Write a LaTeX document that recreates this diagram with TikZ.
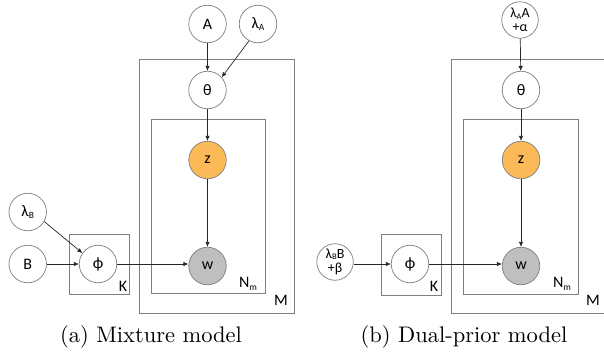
\documentclass[tikz,border=0pt]{standalone}
\usepackage{fontspec}
\usetikzlibrary{arrows.meta}
\newfontfamily\nodefont{Carlito}
\newfontfamily\capfont{lmroman10-regular}[Extension=.otf]
\newcommand{\lowsub}[1]{\raisebox{-0.3ex}{\fontsize{9.5}{10}\selectfont #1}}
\newcommand{\tinysub}[1]{\raisebox{-0.2ex}{\fontsize{8.5}{9}\selectfont #1}}
\definecolor{zorange}{HTML}{FBBA57}
\definecolor{wgray}{HTML}{BFBFBF}
\definecolor{edgegray}{HTML}{7F7F7F}
\definecolor{boxgray}{HTML}{808080}
\begin{document}
\begin{tikzpicture}[x=1pt,y=-1pt,
  var/.style={circle,draw=edgegray,line width=0.7pt,minimum size=37.5pt,inner sep=0pt,
    font=\nodefont\fontsize{16}{17}\selectfont,align=center},
  smallvar/.style={var,minimum size=36.5pt,font=\nodefont\fontsize{14}{14}\selectfont},
  plate/.style={draw=boxgray,line width=0.8pt},
  platelabel/.style={font=\nodefont\fontsize{16}{17}\selectfont,inner sep=0pt},
  edge/.style={draw=black!85,line width=0.7pt,-{Latex[length=5pt,width=4.5pt]}},
  caption/.style={font=\capfont\fontsize{22.5}{26}\selectfont,inner sep=0pt,anchor=base}]
\useasboundingbox (0,0) rectangle (604,354);
\fill[white] (0,0) rectangle (604,354);

% ---------- (a) Mixture model ----------
\draw[plate] (139,59) rectangle (294,313);
\draw[plate] (151,119) rectangle (265,293);
\draw[plate] (69,234) rectangle (129,294);
\node[platelabel] (Ka) at (123,286) {K};
\node[platelabel] (Nma) at (248,284) {N\lowsub{m}};
\node[platelabel] (Ma) at (281,300) {M};

\node[var] (A) at (207.5,24) {A};
\node[var] (lamA) at (258,24) {λ\lowsub{A}};
\node[var] (thetaa) at (207.5,90) {θ};
\node[var,fill=zorange] (za) at (207.5,160) {z};
\node[var,fill=wgray] (wa) at (207.5,266) {w};
\node[var] (lamB) at (27.7,212) {λ\lowsub{B}};
\node[var] (B) at (27.7,264) {B};
\node[var] (phia) at (98,264) {ϕ};

\draw[edge] (A) -- (thetaa);
\draw[edge] (lamA.242) -- (thetaa.42);
\draw[edge] (thetaa) -- (za);
\draw[edge] (za) -- (wa);
\draw[edge] (lamB.-30) -- (phia.145);
\draw[edge] (B) -- (phia);
\draw[edge] (phia.east) -- (wa.west |- phia.east);

\node[caption] (capa) at (151,342) {(a) Mixture model};

% ---------- (b) Dual-prior model ----------
\draw[plate] (604,59) -- (451,59) -- (451,313) -- (604,313);
\draw[plate] (463,119) rectangle (578,294);
\draw[plate] (381,234) rectangle (441,295);
\node[platelabel] (Kb) at (434,286) {K};
\node[platelabel] (Nmb) at (562,284) {N\lowsub{m}};
\node[platelabel] (Mb) at (593,300) {M};

\node[smallvar] (lamAA) at (520,20) {λ\tinysub{A}A\\+α};
\node[var] (thetab) at (521,90) {θ};
\node[var,fill=zorange] (zb) at (521,160) {z};
\node[var,fill=wgray] (wb) at (521,266) {w};
\node[smallvar] (lamBB) at (335,262) {λ\tinysub{B}B\\+β};
\node[var] (phib) at (410,264) {ϕ};

\draw[edge] (lamAA) -- (thetab);
\draw[edge] (thetab) -- (zb);
\draw[edge] (zb) -- (wb);
\draw[edge] (lamBB.east |- phib.west) -- (phib.west);
\draw[edge] (phib.east) -- (wb.west |- phib.east);

\node[caption] (capb) at (464,342) {(b) Dual-prior model};
\end{tikzpicture}
\end{document}
